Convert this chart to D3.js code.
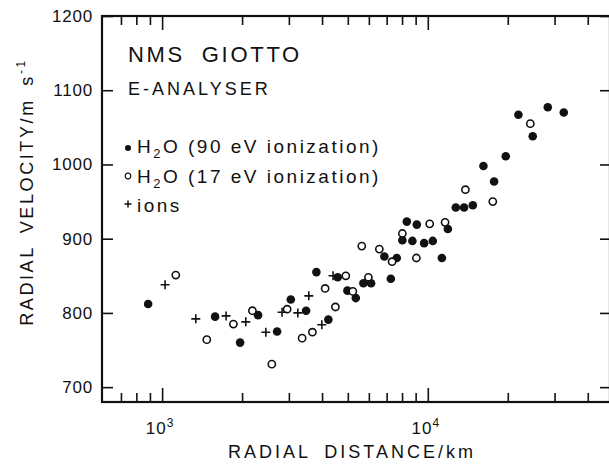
<!DOCTYPE html>
<html>
<head>
<script src="https://d3js.org/d3.v7.min.js"></script>
<style>
  body { margin: 0; background: #fff; }
  text { font-family: "Liberation Sans", Arial, sans-serif; fill: #111; }
</style>
</head>
<body>
<svg width="609" height="468"></svg>
<script>
// H2O, 90 eV ionization (filled circles): [radial distance km, velocity m/s]
const h2o90 = [
  [886, 812], [1583, 795], [1966, 760], [2297, 797], [2709, 775], [3050, 818],
  [3483, 803], [3808, 855], [4224, 791], [4581, 848], [4982, 830], [5358, 820],
  [5723, 840], [6116, 840], [6864, 876], [7259, 846], [7643, 874], [8022, 898],
  [8337, 923], [8750, 897], [9091, 919], [9686, 894], [10442, 897], [11297, 874],
  [11900, 913], [12746, 942], [13694, 942], [14771, 945], [16194, 998], [17765, 977],
  [19650, 1011], [21930, 1067], [24826, 1038], [28287, 1077], [32490, 1070]
];
// H2O, 17 eV ionization (open circles)
const h2o17 = [
  [1126, 851], [1473, 764], [1855, 785], [2187, 803], [2588, 731], [2955, 805],
  [3365, 766], [3679, 774], [4107, 833], [4490, 808], [4914, 850], [5221, 829],
  [5643, 890], [5975, 848], [6570, 886], [7338, 869], [8022, 907], [9058, 874],
  [10165, 920], [11614, 922], [13853, 966], [17564, 950], [24313, 1055]
];
// ions (plus signs)
const ions = [
  [1026, 838], [1339, 792], [1741, 796], [2065, 788], [2457, 774],
  [2828, 801], [3242, 800], [3566, 823], [3991, 784], [4399, 850]
];

const yTicks = [700, 800, 900, 1000, 1100, 1200];
const xMajor = [1000, 10000];
const xMinor = [700, 800, 900, 2000, 3000, 4000, 5000, 6000, 7000, 8000, 9000, 20000, 30000, 40000];
const xExp = ["3", "4"];

const mLeft = 102, mRight = 610, mTop = 16, mBottom = 402;

const svg = d3.select("svg");

const x = d3.scaleLog().domain([594, 48500]).range([mLeft, mRight]);
const y = d3.scaleLinear().domain([680, 1200]).range([mBottom, mTop]);

// ticks (all pointing inward)
function ticks(g) {
  g.select(".domain").remove();
  g.selectAll("line").attr("stroke", "#111").attr("stroke-width", 1.6);
}
svg.append("g").attr("transform", `translate(0,${mBottom})`)
  .call(d3.axisBottom(x).tickValues(xMajor).tickSize(-14).tickFormat("")).call(ticks);
svg.append("g").attr("transform", `translate(0,${mBottom})`)
  .call(d3.axisBottom(x).tickValues(xMinor).tickSize(-9).tickFormat("")).call(ticks);
svg.append("g").attr("transform", `translate(0,${mTop})`)
  .call(d3.axisTop(x).tickValues(xMajor).tickSize(-14).tickFormat("")).call(ticks);
svg.append("g").attr("transform", `translate(0,${mTop})`)
  .call(d3.axisTop(x).tickValues(xMinor).tickSize(-9).tickFormat("")).call(ticks);
svg.append("g").attr("transform", `translate(${mRight},0)`)
  .call(d3.axisRight(y).tickValues(yTicks).tickSize(-10).tickFormat("")).call(ticks);

const yAxis = svg.append("g").attr("transform", `translate(${mLeft},0)`)
  .call(d3.axisLeft(y).tickValues(yTicks).tickSize(-11).tickPadding(9).tickFormat(d3.format("d")));
yAxis.call(ticks);
yAxis.selectAll("text")
  .style("font-family", '"Liberation Sans", Arial, sans-serif')
  .attr("font-size", 17).attr("letter-spacing", 0.8).attr("fill", "#111");

// frame
svg.append("rect")
  .attr("x", mLeft).attr("y", mTop)
  .attr("width", mRight - mLeft).attr("height", mBottom - mTop)
  .attr("fill", "none").attr("stroke", "#111").attr("stroke-width", 2.2);

// x tick labels 10^3, 10^4
const xl = svg.append("g").selectAll("text")
  .data(xMajor)
  .join("text")
  .attr("x", d => x(d) - 2)
  .attr("y", 434)
  .attr("text-anchor", "middle")
  .attr("font-size", 17)
  .attr("letter-spacing", 1);
xl.append("tspan").text("10");
xl.append("tspan").attr("font-size", 12).attr("dy", -7).text((d, i) => xExp[i]);

// axis titles
svg.append("text")
  .attr("x", 352).attr("y", 458)
  .attr("text-anchor", "middle")
  .attr("font-size", 18)
  .attr("letter-spacing", 3)
  .attr("word-spacing", 6)
  .text("RADIAL DISTANCE/km");

const yt = svg.append("text")
  .attr("transform", "translate(33,192) rotate(-90)")
  .attr("text-anchor", "middle")
  .attr("font-size", 18)
  .attr("letter-spacing", 2.6)
  .attr("word-spacing", 5);
yt.append("tspan").text("RADIAL VELOCITY/m s");
yt.append("tspan").attr("font-size", 12).attr("dy", -8).text("-1");

// annotation
svg.append("text").attr("x", 128).attr("y", 62)
  .attr("font-size", 22).attr("letter-spacing", 2.7).attr("word-spacing", 8)
  .text("NMS GIOTTO");
svg.append("text").attr("x", 128).attr("y", 95)
  .attr("font-size", 18).attr("letter-spacing", 3)
  .text("E-ANALYSER");

// data marks
const plot = svg.append("g");
plot.selectAll("circle.f").data(h2o90).join("circle")
  .attr("cx", d => x(d[0])).attr("cy", d => y(d[1]))
  .attr("r", 4.3).attr("fill", "#111");
plot.selectAll("circle.o").data(h2o17).join("circle")
  .attr("cx", d => x(d[0])).attr("cy", d => y(d[1]))
  .attr("r", 3.6).attr("fill", "#fff").attr("stroke", "#111").attr("stroke-width", 1.6);
plot.selectAll("path.p").data(ions).join("path")
  .attr("d", d => `M${x(d[0]) - 4.5},${y(d[1])}h9M${x(d[0])},${y(d[1]) - 4.5}v9`)
  .attr("stroke", "#111").attr("stroke-width", 1.6);

// legend
const legend = [
  { label: "(90 eV ionization)", type: "filled", h2o: true },
  { label: "(17 eV ionization)", type: "open", h2o: true },
  { label: "ions", type: "plus", h2o: false }
];
const lg = svg.append("g").selectAll("g").data(legend).join("g")
  .attr("transform", (d, i) => `translate(128,${[148, 176, 204][i]})`);
lg.filter(d => d.type === "filled").append("circle").attr("r", 3).attr("fill", "#111");
lg.filter(d => d.type === "open").append("circle").attr("r", 2.8)
  .attr("fill", "#fff").attr("stroke", "#111").attr("stroke-width", 1.2);
lg.filter(d => d.type === "plus").append("path").attr("d", "M-3.5,0h7M0,-3.5v7")
  .attr("stroke", "#111").attr("stroke-width", 1.5);
const lt = lg.append("text").attr("x", 9).attr("y", (d, i) => [5, 7, 8][i])
  .attr("font-size", 19).attr("letter-spacing", 2.5);
lt.filter(d => d.h2o).each(function(d) {
  const t = d3.select(this);
  t.append("tspan").text("H");
  t.append("tspan").attr("font-size", 13).attr("dy", 5).text("2");
  t.append("tspan").attr("dy", -5).text("O " + d.label);
});
lt.filter(d => !d.h2o).text(d => d.label);
</script>
</body>
</html>
